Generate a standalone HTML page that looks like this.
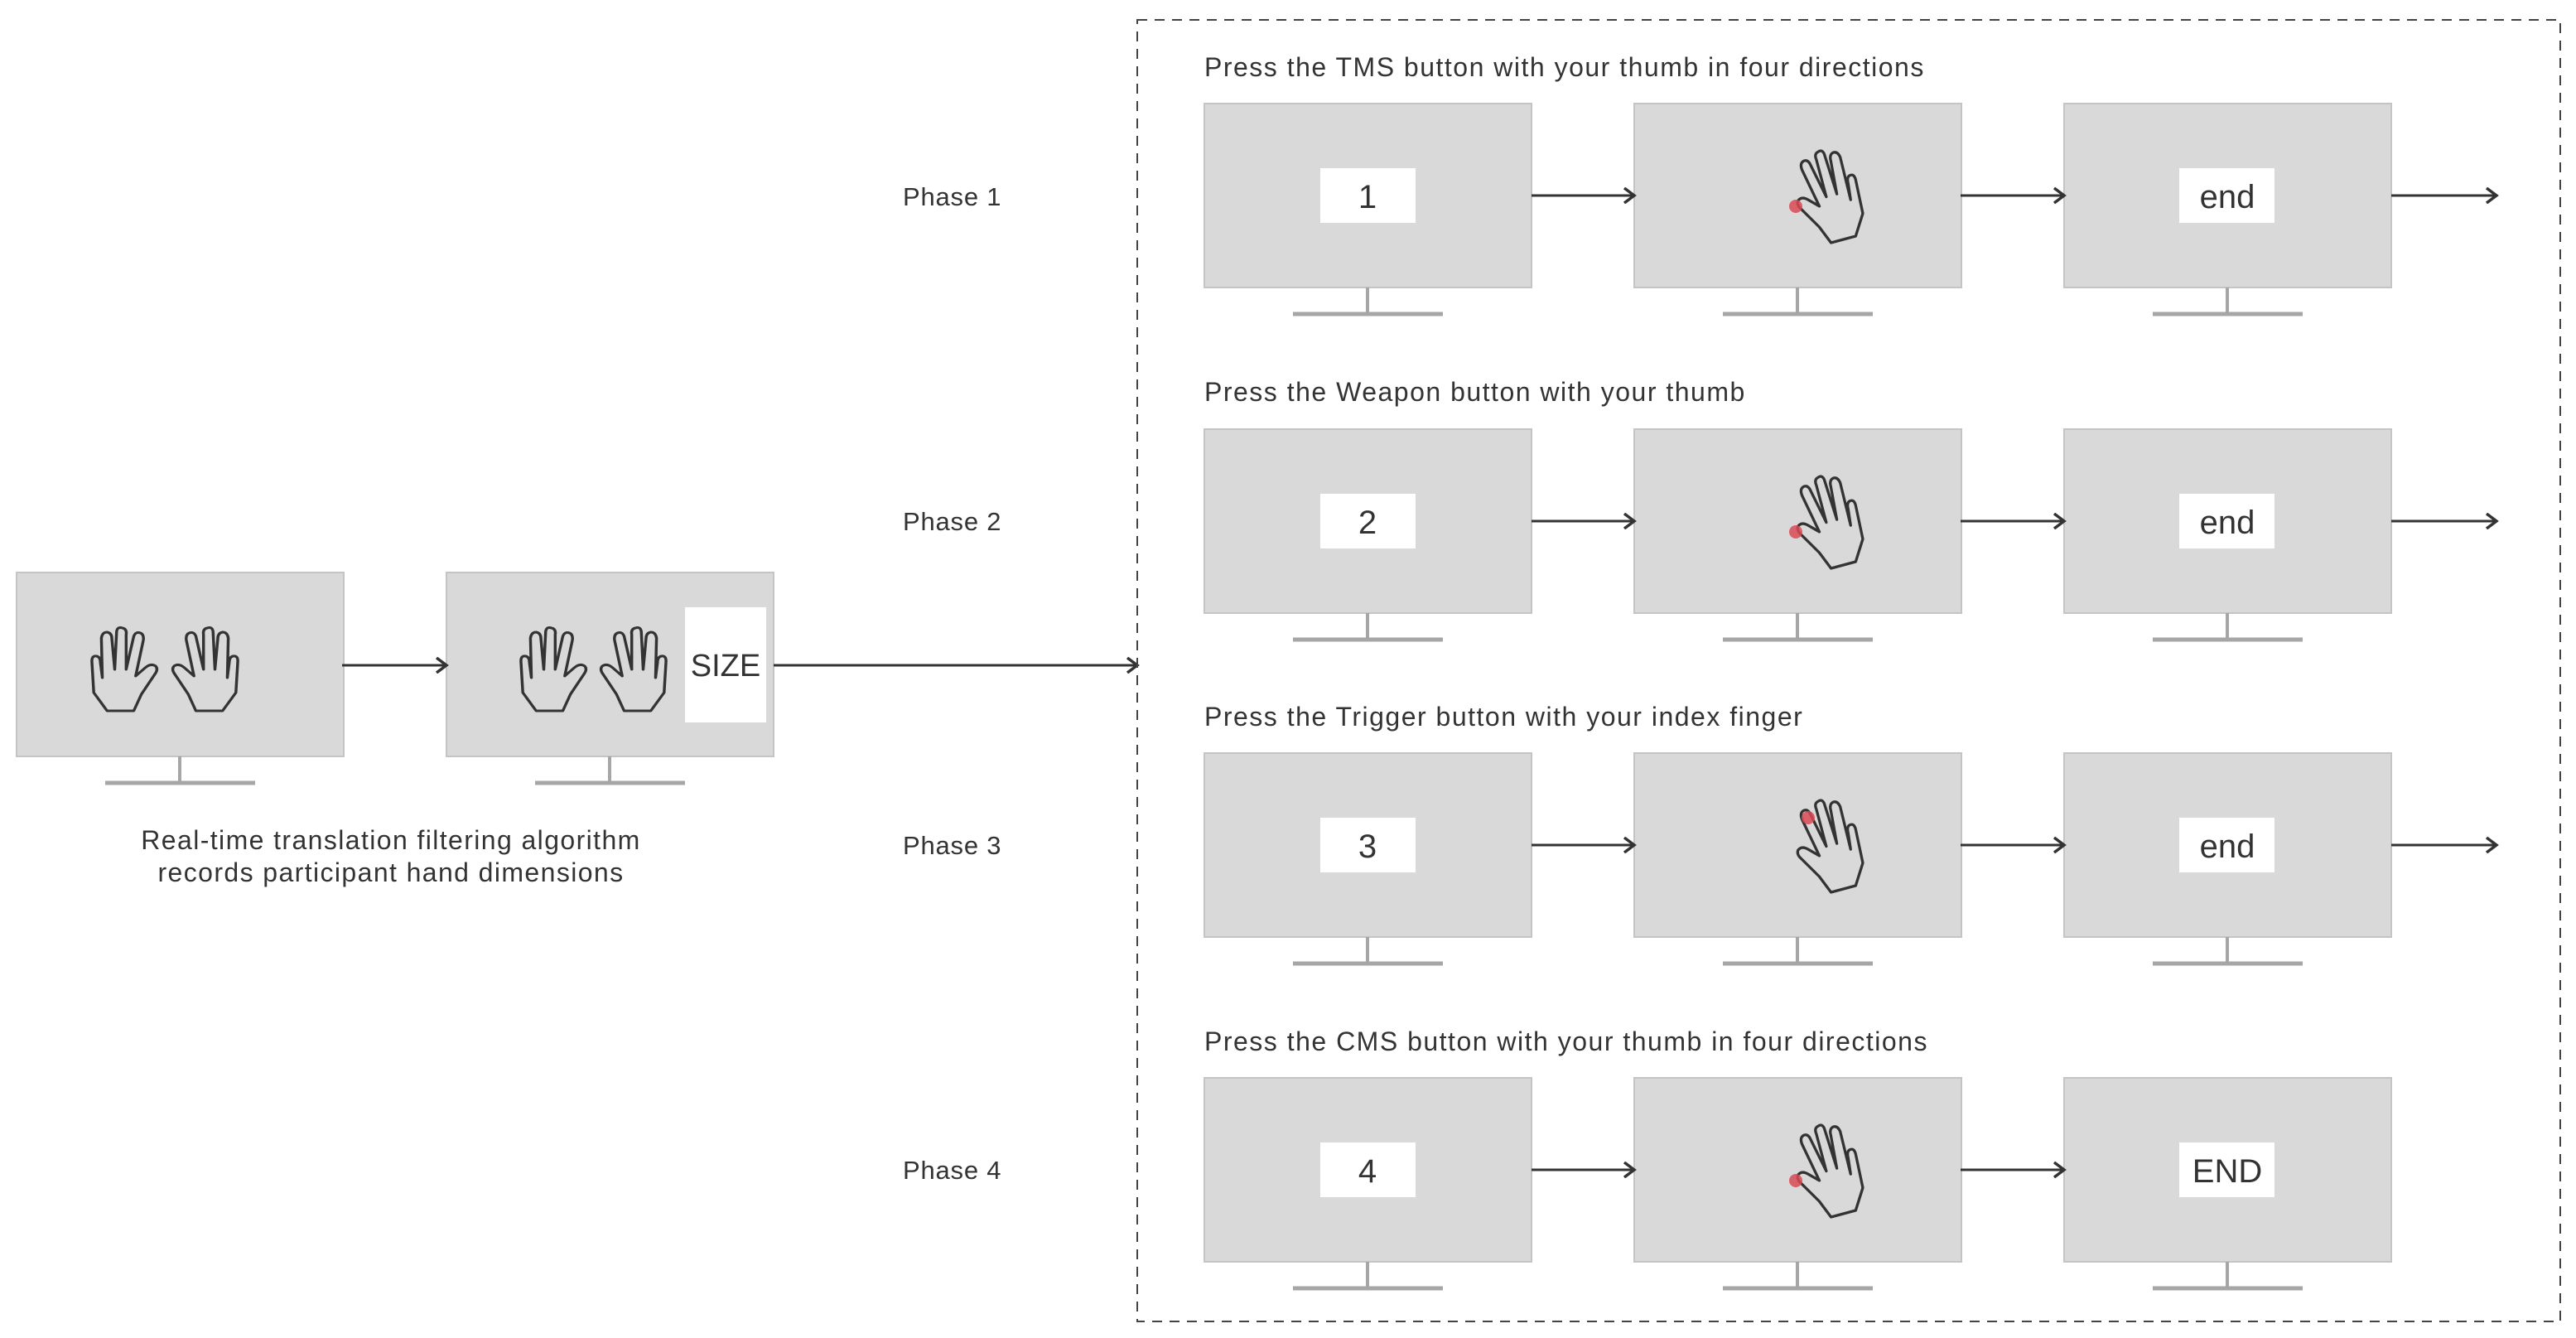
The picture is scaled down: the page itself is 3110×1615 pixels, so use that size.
<!DOCTYPE html>
<html><head><meta charset="utf-8"><style>
html,body{margin:0;padding:0;background:#fff;}
svg{display:block;}
text{font-family:"Liberation Sans",sans-serif;fill:#333;}
</style></head><body>
<svg width="3110" height="1615" viewBox="0 0 3110 1615" xmlns="http://www.w3.org/2000/svg">
<defs>
<marker id="ar" markerWidth="18" markerHeight="20" refX="15" refY="10" orient="auto" markerUnits="userSpaceOnUse">
<path d="M3,1 L15,10 L3,19" fill="none" stroke="#333" stroke-width="3.5"/>
</marker>
<path id="hand" d="M22,100 L8,78 L6,40 Q6,33 11,34 Q15,35 15,42 L17,60 L16,12 Q17,5 22,5 Q27,6 27,13 L30,50 L32,4 Q33,-2 38,0 Q43,1 42,8 L42,50 L50,10 Q52,4 57,6 Q61,8 60,15 L52,58 L62,48 Q68,42 73,46 Q76,50 72,56 L58,80 L50,100 Z" fill="none" stroke="#333" stroke-width="3" stroke-linejoin="round"/>
<g id="mon">
<rect x="0" y="0" width="395" height="222" fill="#d9d9d9" stroke="#c4c4c4" stroke-width="2"/>
<line x1="197" y1="222" x2="197" y2="254" stroke="#a6a6a6" stroke-width="4"/>
<line x1="107" y1="254" x2="288" y2="254" stroke="#a6a6a6" stroke-width="5"/>
</g>
<g id="phand">
<g transform="translate(-44,-55) scale(1.1)"><g transform="translate(80,0) scale(-1,1)"><use href="#hand"/></g></g>
</g>
</defs>

<!-- left side -->
<use href="#mon" x="20" y="691"/>
<use href="#mon" x="539" y="691"/>
<g transform="translate(104,758)"><use href="#hand" transform="scale(1.15,1)"/></g>
<g transform="translate(294,758) scale(-1.15,1)"><use href="#hand"/></g>
<g transform="translate(622,758)"><use href="#hand" transform="scale(1.15,1)"/></g>
<g transform="translate(811,758) scale(-1.15,1)"><use href="#hand"/></g>
<rect x="827" y="733" width="98" height="139" fill="#fff"/>
<text x="876" y="816" font-size="38" text-anchor="middle">SIZE</text>
<line x1="413" y1="803" x2="539" y2="803" stroke="#333" stroke-width="3" marker-end="url(#ar)"/>
<line x1="934" y1="803" x2="1373" y2="803" stroke="#333" stroke-width="3" marker-end="url(#ar)"/>
<g font-size="32" letter-spacing="1.4">
<text x="472" y="1025" text-anchor="middle">Real-time translation filtering algorithm</text>
<text x="472" y="1064" text-anchor="middle">records participant hand dimensions</text>
</g>

<!-- dashed box -->
<rect x="1373" y="24" width="1718" height="1571" fill="none" stroke="#444" stroke-width="2" stroke-dasharray="12,9"/>

<!-- rows -->
<g font-size="32" letter-spacing="1.5">
<text x="1454" y="92">Press the TMS button with your thumb in four directions</text>
<text x="1454" y="484">Press the Weapon button with your thumb</text>
<text x="1454" y="876">Press the Trigger button with your index finger</text>
<text x="1454" y="1268">Press the CMS button with your thumb in four directions</text>
</g>
<g font-size="31" letter-spacing="0.8">
<text x="1090" y="248">Phase 1</text>
<text x="1090" y="640">Phase 2</text>
<text x="1090" y="1031">Phase 3</text>
<text x="1090" y="1423">Phase 4</text>
</g>

<g transform="translate(0,125)">
<use href="#mon" x="1454" y="0"/><use href="#mon" x="1973" y="0"/><use href="#mon" x="2492" y="0"/>
<rect x="1594" y="78" width="115" height="66" fill="#fff"/><text x="1651" y="126" font-size="40" text-anchor="middle">1</text>
<rect x="2631" y="78" width="115" height="66" fill="#fff"/><text x="2689" y="126" font-size="40" text-anchor="middle">end</text>
<g transform="translate(2207,112) rotate(-15)"><use href="#phand"/></g>
<circle cx="2168" cy="124" r="8" fill="#d84a55" opacity="0.85"/>
<line x1="1849" y1="111" x2="1973" y2="111" stroke="#333" stroke-width="3" marker-end="url(#ar)"/>
<line x1="2367" y1="111" x2="2492" y2="111" stroke="#333" stroke-width="3" marker-end="url(#ar)"/>
<line x1="2887" y1="111" x2="3014" y2="111" stroke="#333" stroke-width="3" marker-end="url(#ar)"/>
</g>
<g transform="translate(0,518)">
<use href="#mon" x="1454" y="0"/><use href="#mon" x="1973" y="0"/><use href="#mon" x="2492" y="0"/>
<rect x="1594" y="78" width="115" height="66" fill="#fff"/><text x="1651" y="126" font-size="40" text-anchor="middle">2</text>
<rect x="2631" y="78" width="115" height="66" fill="#fff"/><text x="2689" y="126" font-size="40" text-anchor="middle">end</text>
<g transform="translate(2207,112) rotate(-15)"><use href="#phand"/></g>
<circle cx="2168" cy="124" r="8" fill="#d84a55" opacity="0.85"/>
<line x1="1849" y1="111" x2="1973" y2="111" stroke="#333" stroke-width="3" marker-end="url(#ar)"/>
<line x1="2367" y1="111" x2="2492" y2="111" stroke="#333" stroke-width="3" marker-end="url(#ar)"/>
<line x1="2887" y1="111" x2="3014" y2="111" stroke="#333" stroke-width="3" marker-end="url(#ar)"/>
</g>
<g transform="translate(0,909)">
<use href="#mon" x="1454" y="0"/><use href="#mon" x="1973" y="0"/><use href="#mon" x="2492" y="0"/>
<rect x="1594" y="78" width="115" height="66" fill="#fff"/><text x="1651" y="126" font-size="40" text-anchor="middle">3</text>
<rect x="2631" y="78" width="115" height="66" fill="#fff"/><text x="2689" y="126" font-size="40" text-anchor="middle">end</text>
<g transform="translate(2207,112) rotate(-15)"><use href="#phand"/></g>
<circle cx="2183" cy="78" r="8" fill="#d84a55" opacity="0.85"/>
<line x1="1849" y1="111" x2="1973" y2="111" stroke="#333" stroke-width="3" marker-end="url(#ar)"/>
<line x1="2367" y1="111" x2="2492" y2="111" stroke="#333" stroke-width="3" marker-end="url(#ar)"/>
<line x1="2887" y1="111" x2="3014" y2="111" stroke="#333" stroke-width="3" marker-end="url(#ar)"/>
</g>
<g transform="translate(0,1301)">
<use href="#mon" x="1454" y="0"/><use href="#mon" x="1973" y="0"/><use href="#mon" x="2492" y="0"/>
<rect x="1594" y="78" width="115" height="66" fill="#fff"/><text x="1651" y="126" font-size="40" text-anchor="middle">4</text>
<rect x="2631" y="78" width="115" height="66" fill="#fff"/><text x="2689" y="126" font-size="40" text-anchor="middle">END</text>
<g transform="translate(2207,112) rotate(-15)"><use href="#phand"/></g>
<circle cx="2168" cy="124" r="8" fill="#d84a55" opacity="0.85"/>
<line x1="1849" y1="111" x2="1973" y2="111" stroke="#333" stroke-width="3" marker-end="url(#ar)"/>
<line x1="2367" y1="111" x2="2492" y2="111" stroke="#333" stroke-width="3" marker-end="url(#ar)"/>
</g>
</svg>
</body></html>
